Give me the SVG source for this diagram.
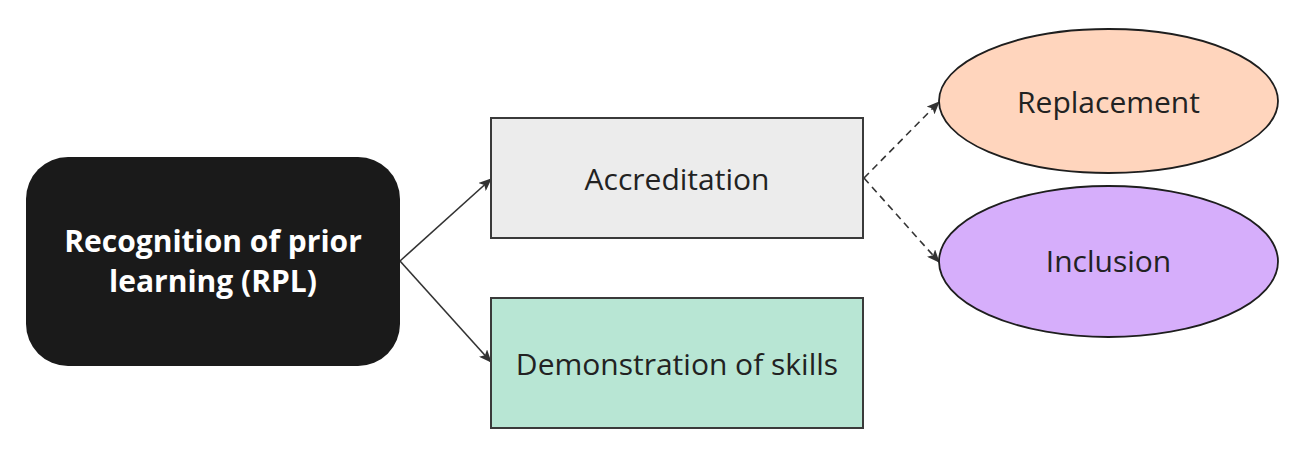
<svg xmlns="http://www.w3.org/2000/svg" width="1307" height="454" viewBox="0 0 1307 454">
<style>
.lbl{font-family:"Open Sans","Noto Sans","Liberation Sans",sans-serif;font-size:30px;fill:#222;text-anchor:middle}
.bold{font-family:"Open Sans","Noto Sans","Liberation Sans",sans-serif;font-size:30px;font-weight:bold;fill:#fff;text-anchor:middle}
.box{stroke:#3a3a3a;stroke-width:2}
.ell{stroke:#1e1e1e;stroke-width:1.8}
.con{fill:none;stroke:#333;stroke-width:1.6}
.dash{stroke-dasharray:7 5}
</style>
<defs>
<marker id="arr" viewBox="0 0 13 11" refX="12" refY="5.5" markerWidth="13" markerHeight="11" markerUnits="userSpaceOnUse" orient="auto">
<path d="M0,0 L13,5.5 L0,11 L3,5.5 Z" fill="#333"/>
</marker>
</defs>
<rect width="1307" height="454" fill="#fff"/>
<g id="connectors">
<line class="con" x1="400" y1="261" x2="491" y2="179" marker-end="url(#arr)"/>
<line class="con" x1="400" y1="261" x2="491" y2="362" marker-end="url(#arr)"/>
<line class="con dash" x1="864" y1="178" x2="939" y2="102" marker-end="url(#arr)"/>
<line class="con dash" x1="864" y1="178" x2="939" y2="262" marker-end="url(#arr)"/>
</g>
<g id="rpl">
<rect x="26" y="157" width="374" height="209" rx="42" fill="#1a1a1a"/>
<text class="bold" x="213" y="252">Recognition of prior</text>
<text class="bold" x="213" y="292">learning (RPL)</text>
</g>
<g id="accreditation">
<rect class="box" x="491" y="118" width="372" height="120" fill="#ececec"/>
<text class="lbl" x="677" y="190">Accreditation</text>
</g>
<g id="demonstration">
<rect class="box" x="491" y="298" width="372" height="130" fill="#b8e6d4"/>
<text class="lbl" x="677" y="375">Demonstration of skills</text>
</g>
<g id="replacement">
<ellipse class="ell" cx="1108.5" cy="101" rx="169.5" ry="72" fill="#ffd5bd"/>
<text class="lbl" x="1108.5" y="113">Replacement</text>
</g>
<g id="inclusion">
<ellipse class="ell" cx="1108.5" cy="261.5" rx="169.5" ry="75.5" fill="#d6aefb"/>
<text class="lbl" x="1108.5" y="272">Inclusion</text>
</g>
</svg>
